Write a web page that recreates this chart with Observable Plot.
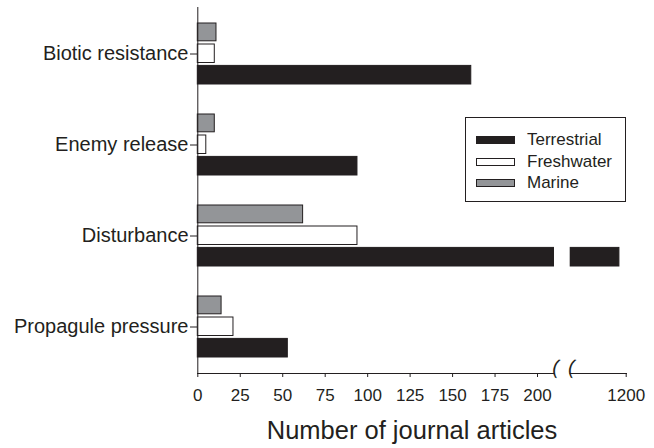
<!DOCTYPE html>
<html><head><meta charset="utf-8">
<script src="https://cdn.jsdelivr.net/npm/d3@7"></script>
<script src="https://cdn.jsdelivr.net/npm/@observablehq/plot@0.6"></script>
<style>
body{margin:0;background:#fff;font-family:"Liberation Sans",Arial,sans-serif;color:#231f20;}
#wrap{position:relative;width:654px;height:448px;}
#legend{position:absolute;left:465px;top:117px;width:161px;height:85px;border:1px solid #231f20;box-sizing:border-box;background:#fff;}
.item{position:absolute;left:0;height:20px;width:100%;}
.sw{position:absolute;left:10px;top:6px;width:39px;height:8px;border:1px solid #231f20;box-sizing:border-box;}
.lb{position:absolute;left:61px;top:0;line-height:20px;font-size:17px;}
</style></head>
<body><div id="wrap"></div>
<script>
const categories = ["Biotic resistance", "Enemy release", "Disturbance", "Propagule pressure"];
const series = ["Terrestrial", "Freshwater", "Marine"];
const seriesFill = ["#231f20", "#ffffff", "#939598"];
const terrestrial = [161, 94, 1196, 53];
const freshwater = [10, 5, 94, 21];
const marine = [11, 10, 62, 14];
const xTicks = [0, 25, 50, 75, 100, 125, 150, 175, 200, 1200];
const axisBreak = [210, 1167];
const xLabel = "Number of journal articles";

const values = {Terrestrial: terrestrial, Freshwater: freshwater, Marine: marine};
const data = categories.flatMap((c, i) => series.map(s => ({category: c, series: s, value: values[s][i]})));
const insets = {Marine: [0, 43.2], Freshwater: [21, 21.5], Terrestrial: [42.4, 0]};
const ink = "#231f20";

const plot = Plot.plot({
  width: 654, height: 448,
  marginLeft: 197, marginRight: 28, marginTop: 7, marginBottom: 75,
  style: {fontFamily: '"Liberation Sans", Arial, sans-serif', color: ink, background: "transparent"},
  x: {type: "linear", domain: [0, axisBreak[0], axisBreak[1], 1200], range: [197.3, 554, 569.7, 625.7]},
  y: {type: "band", domain: categories, paddingInner: 0.327, paddingOuter: 0.164},
  marks: [
    Plot.frame({anchor: "bottom", stroke: ink}),
    ...series.map((s, k) => Plot.barX(data.filter(d => d.series === s), {
      x: "value", y: "category", fill: seriesFill[k], stroke: ink, strokeWidth: 1,
      insetTop: insets[s][0], insetBottom: insets[s][1]
    })),
    Plot.rect([axisBreak], {x1: d => d[0], x2: d => d[1], fill: "white", insetBottom: -3}),
    Plot.text(axisBreak, {x: d => d, frameAnchor: "bottom", text: () => "(", fontSize: 20, fill: ink, dy: 0, rotate: 12}),
    Plot.ruleX([0], {stroke: ink}),
    Plot.axisX({ticks: xTicks, tickSize: 4, tickPadding: 11, fontSize: 17, label: null, tickFormat: d => String(d), stroke: ink, fill: ink}),
    Plot.axisY({tickSize: 7, tickPadding: 2, fontSize: 20, label: null, stroke: ink, fill: ink}),
    Plot.text([xLabel], {frameAnchor: "bottom", dy: 65, fontSize: 25.5, fill: ink})
  ]
});
const wrap = document.getElementById("wrap");
wrap.appendChild(plot);

const legend = document.createElement("div");
legend.id = "legend";
const rowTops = [12, 33.5, 55];
series.forEach((s, k) => {
  const item = document.createElement("div");
  item.className = "item";
  item.style.top = rowTops[k] + "px";
  const sw = document.createElement("div");
  sw.className = "sw";
  sw.style.background = seriesFill[k];
  const lb = document.createElement("div");
  lb.className = "lb";
  lb.textContent = s;
  item.appendChild(sw); item.appendChild(lb);
  legend.appendChild(item);
});
wrap.appendChild(legend);
</script></body></html>
